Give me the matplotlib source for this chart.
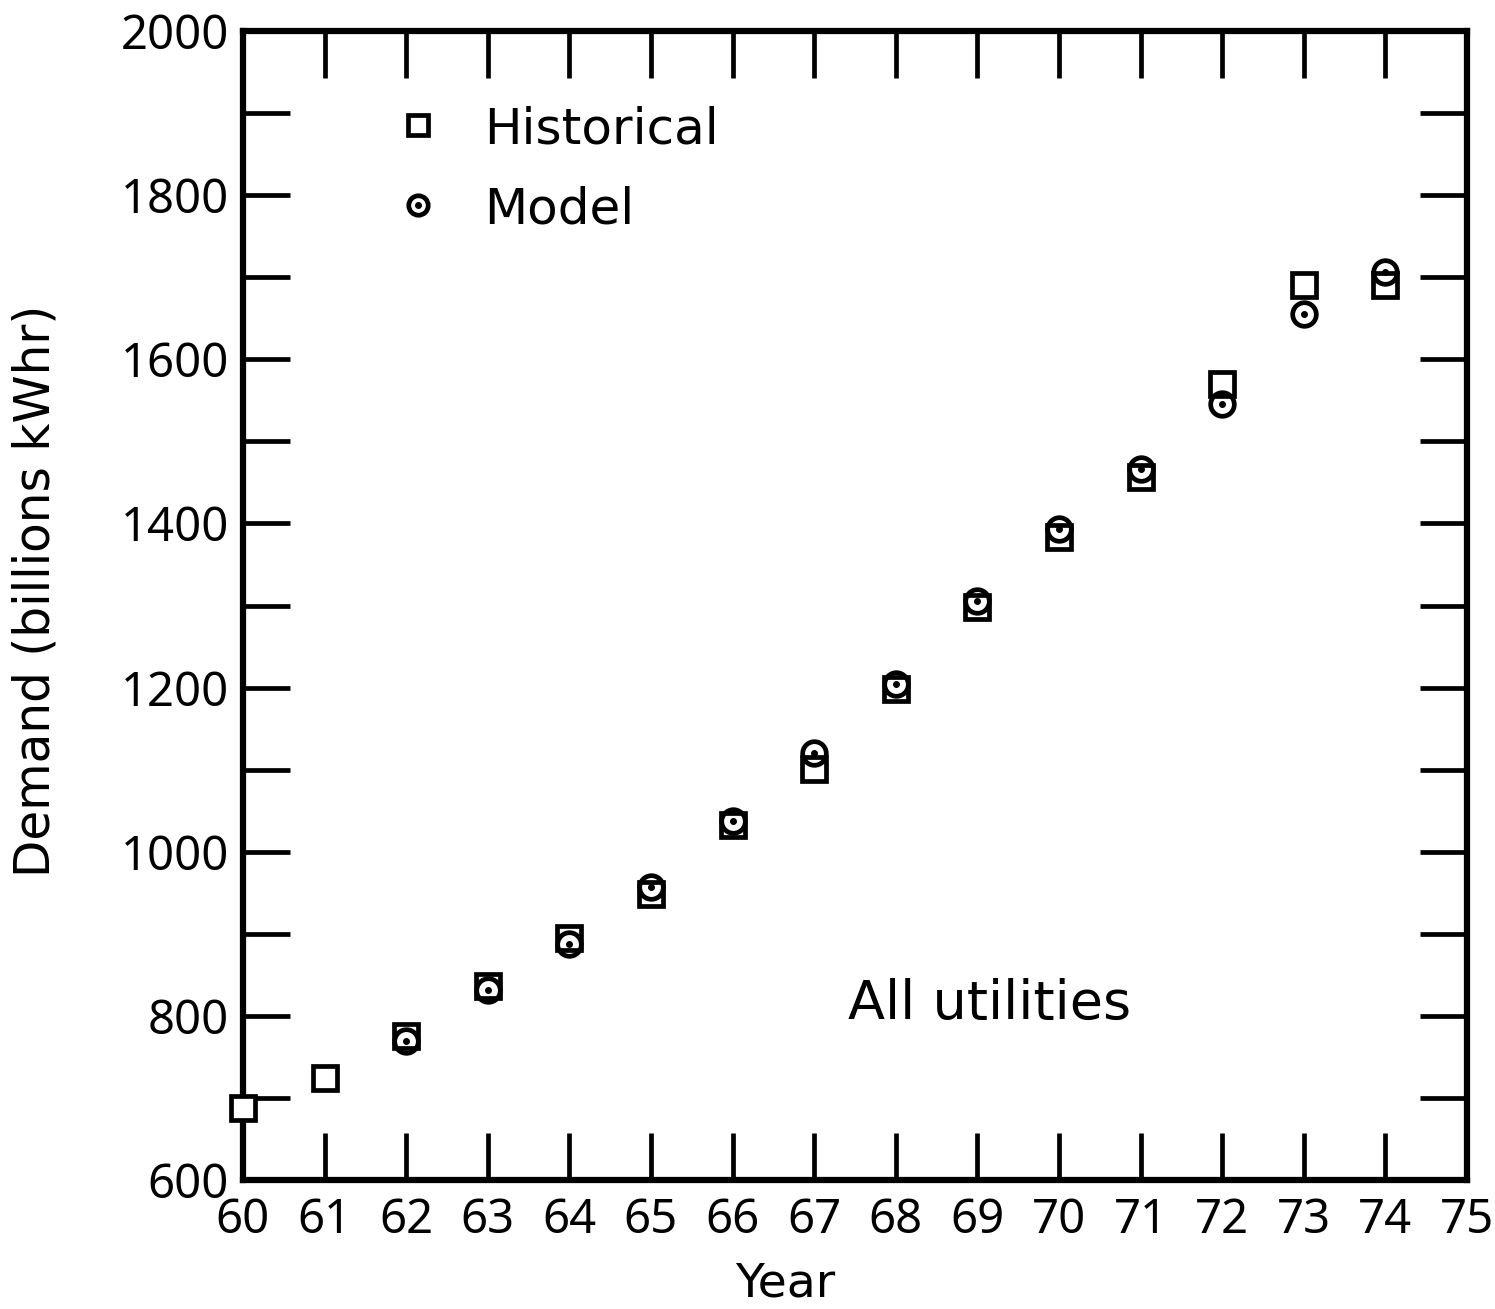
import numpy as np
import matplotlib
matplotlib.use("Agg")
import matplotlib.pyplot as plt
from matplotlib.ticker import MultipleLocator

# data
years = [60, 61, 62, 63, 64, 65, 66, 67, 68, 69, 70, 71, 72, 73, 74]
historical = [688, 724, 776, 836, 895, 949, 1033, 1101, 1198, 1298, 1384, 1457, 1570, 1691, 1690]
# model points for 60 and 61 are not visible on the scan
model = [np.nan, np.nan, 770, 831, 888, 957, 1038, 1120, 1204, 1305, 1393, 1466, 1546, 1655, 1706]

tickfont = ['Noto Sans', 'DejaVu Sans']

fig = plt.figure(figsize=(14.95, 13.09), dpi=100)
ax = fig.add_axes([0.1625, 0.0985, 0.8188, 0.8778])

ms = 17
mew = 3.4
ax.plot(years, historical, ls='none', marker='s', ms=ms, mfc='white', mec='black', mew=mew,
        zorder=3, clip_on=False)
ax.plot(years, model, ls='none', marker='o', ms=ms, mfc='none', mec='black', mew=mew, zorder=4)
ax.plot(years, model, ls='none', marker='o', ms=4, mfc='black', mec='black', zorder=5)

# legend drawn as text in data coords, like the original
ax.plot([62.14], [1886], marker='s', ms=14, mfc='white', mec='black', mew=mew)
ax.plot([62.14], [1788], marker='o', ms=14, mfc='none', mec='black', mew=mew)
ax.plot([62.14], [1788], marker='o', ms=4, mfc='black', mec='black')
ax.text(62.95, 1880, 'Historical', fontsize=36, va='center', ha='left')
ax.text(62.95, 1782, 'Model', fontsize=36, va='center', ha='left')
ax.text(67.42, 815, 'All utilities', fontsize=39, va='center', ha='left')

ax.set_xlim(60, 75)
ax.set_ylim(600, 2000)
ax.xaxis.set_major_locator(MultipleLocator(1))
ax.yaxis.set_major_locator(MultipleLocator(200))
ax.yaxis.set_minor_locator(MultipleLocator(100))
ax.tick_params(which='both', direction='in', length=34, width=3.4,
               top=True, right=True, labelsize=34)
ax.tick_params(axis='x', pad=12)
ax.tick_params(axis='y', pad=10)
for lab in ax.get_xticklabels() + ax.get_yticklabels():
    lab.set_family(tickfont)
for sp in ax.spines.values():
    sp.set_linewidth(4.5)

ax.set_xlabel('Year', fontsize=34)
ax.set_ylabel('Demand (billions kWhr)', fontsize=35)
ax.xaxis.set_label_coords(0.443, -0.071)
ax.yaxis.set_label_coords(-0.15, 0.513)

fig.savefig('out.png', dpi=100)
